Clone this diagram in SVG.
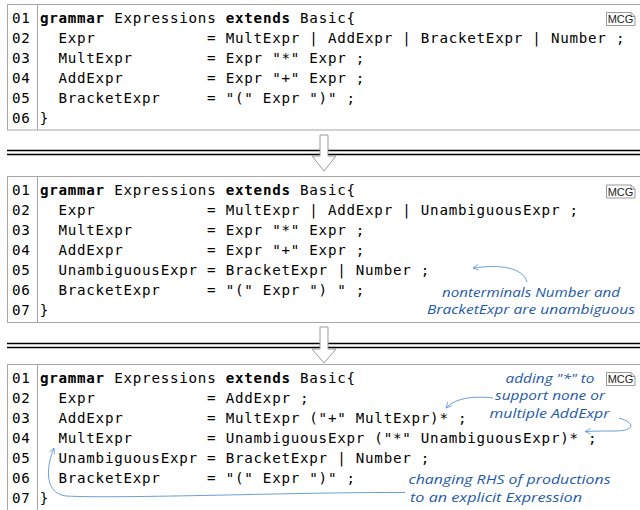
<svg xmlns="http://www.w3.org/2000/svg" width="640" height="510" viewBox="0 0 640 510">
<defs>
<style>
.box{fill:#fff;stroke:#a6a6a6;stroke-width:1}
.div{stroke:#a6a6a6;stroke-width:1}
.code{font-family:"DejaVu Sans Mono","Liberation Mono",monospace;font-size:14.2px;letter-spacing:0.75px;fill:#000;white-space:pre}
.b{font-weight:bold}
.tag{fill:#fff;stroke:#999;stroke-width:1}
.tagt{font-family:"Liberation Sans",Arial,sans-serif;font-size:11px;fill:#222;text-anchor:middle}
.sep{stroke:#000;stroke-width:1.5}
.barrow{fill:#fff;stroke:#9a9a9a;stroke-width:1}
.note{font-family:"Open Sans","DejaVu Sans",sans-serif;font-style:italic;font-size:12px;fill:#1e5aa8}
.cur{fill:none;stroke:#6a9fd8;stroke-width:1;marker-end:url(#oh)}
</style>
<marker id="oh" viewBox="0 0 10 10" refX="9" refY="5" markerWidth="7" markerHeight="7" orient="auto" markerUnits="userSpaceOnUse">
<path d="M1,1 L9,5 L1,9" fill="none" stroke="#6a9fd8" stroke-width="1.2"/>
</marker>
</defs>
<rect width="640" height="510" fill="#fff"/>

<g id="box1" xml:space="preserve">
<rect class="box" x="7.5" y="4.5" width="640" height="125.5"/>
<line class="div" x1="37.5" y1="4.5" x2="37.5" y2="130"/>
<path class="tag" d="M606.5,12.5 H631 L635,16.5 V25.5 H606.5 Z M631,12.5 V16.5 H635"/>
<text class="tagt" x="620.5" y="23.2">MCG</text>
<text class="code" x="12" y="22.5">01 <tspan class="b">grammar</tspan> Expressions <tspan class="b">extends</tspan> Basic{</text>
<text class="code" x="12" y="42.5">02   Expr            = MultExpr | AddExpr | BracketExpr | Number ;</text>
<text class="code" x="12" y="62.5">03   MultExpr        = Expr "*" Expr ;</text>
<text class="code" x="12" y="82.5">04   AddExpr         = Expr "+" Expr ;</text>
<text class="code" x="12" y="102.5">05   BracketExpr     = "(" Expr ")" ;</text>
<text class="code" x="12" y="122.5">06 }</text>
</g>

<g id="box2" xml:space="preserve">
<rect class="box" x="7.5" y="176.5" width="640" height="146"/>
<line class="div" x1="37.5" y1="176.5" x2="37.5" y2="322.5"/>
<path class="tag" d="M606.5,185 H631 L635,189 V198 H606.5 Z M631,185 V189 H635"/>
<text class="tagt" x="620.5" y="195.7">MCG</text>
<text class="code" x="12" y="195.2">01 <tspan class="b">grammar</tspan> Expressions <tspan class="b">extends</tspan> Basic{</text>
<text class="code" x="12" y="215.2">02   Expr            = MultExpr | AddExpr | UnambiguousExpr ;</text>
<text class="code" x="12" y="235.2">03   MultExpr        = Expr "*" Expr ;</text>
<text class="code" x="12" y="255.2">04   AddExpr         = Expr "+" Expr ;</text>
<text class="code" x="12" y="275.2">05   UnambiguousExpr = BracketExpr | Number ;</text>
<text class="code" x="12" y="295.2">06   BracketExpr     = "(" Expr ") " ;</text>
<text class="code" x="12" y="315.2">07 }</text>
<text class="note" x="531" y="296.5" text-anchor="middle" textLength="178" lengthAdjust="spacingAndGlyphs">nonterminals Number and</text>
<text class="note" x="531" y="313.5" text-anchor="middle" textLength="208" lengthAdjust="spacingAndGlyphs">BracketExpr are unambiguous</text>
</g>

<g id="box3" xml:space="preserve">
<rect class="box" x="7.5" y="364.5" width="640" height="160"/>
<line class="div" x1="37.5" y1="364.5" x2="37.5" y2="512"/>
<path class="tag" d="M606.5,372.5 H631 L635,376.5 V385.5 H606.5 Z M631,372.5 V376.5 H635"/>
<text class="tagt" x="620.5" y="383.2">MCG</text>
<text class="code" x="12" y="382.6">01 <tspan class="b">grammar</tspan> Expressions <tspan class="b">extends</tspan> Basic{</text>
<text class="code" x="12" y="402.6">02   Expr            = AddExpr ;</text>
<text class="code" x="12" y="422.6">03   AddExpr         = MultExpr ("+" MultExpr)* ;</text>
<text class="code" x="12" y="442.6">04   MultExpr        = UnambiguousExpr ("*" UnambiguousExpr)* ;</text>
<text class="code" x="12" y="462.6">05   UnambiguousExpr = BracketExpr | Number ;</text>
<text class="code" x="12" y="482.6">06   BracketExpr     = "(" Expr ")" ;</text>
<text class="code" x="12" y="502.6">07 }</text>
<text class="note" x="550" y="382.5" text-anchor="middle" textLength="89" lengthAdjust="spacingAndGlyphs">adding "*" to</text>
<text class="note" x="550" y="400" text-anchor="middle" textLength="110" lengthAdjust="spacingAndGlyphs">support none or</text>
<text class="note" x="549.5" y="418" text-anchor="middle" textLength="120" lengthAdjust="spacingAndGlyphs">multiple AddExpr</text>
<text class="note" x="408.5" y="483.5" textLength="202" lengthAdjust="spacingAndGlyphs">changing RHS of productions</text>
<text class="note" x="410" y="501.5" textLength="172" lengthAdjust="spacingAndGlyphs">to an explicit Expression</text>
</g>

<g id="separators">
<line class="sep" x1="7" y1="150.5" x2="640" y2="150.5"/>
<line class="sep" x1="7" y1="154.5" x2="640" y2="154.5"/>
<line class="sep" x1="7" y1="343.5" x2="640" y2="343.5"/>
<line class="sep" x1="7" y1="347.5" x2="640" y2="347.5"/>
</g>

<g id="connectors">
<path class="barrow" d="M320,135 H328 V156 H336 L324,171 L312,156 H320 Z"/>
<path class="barrow" d="M320,327 H328 V349 H336 L324,363 L312,349 H320 Z"/>
<path class="cur" d="M527,282 C523,268 502,264 473,268"/>
<path class="cur" d="M493,398 C476,396 456,397 446,408"/>
<path class="cur" d="M619,418 C636,423 635,431 615,431 C605,431 596,431 585,431.5"/>
<path class="cur" d="M405,492.5 C300,492 120,499 66,496 C47,494 44,472 54,448"/>
</g>
</svg>
